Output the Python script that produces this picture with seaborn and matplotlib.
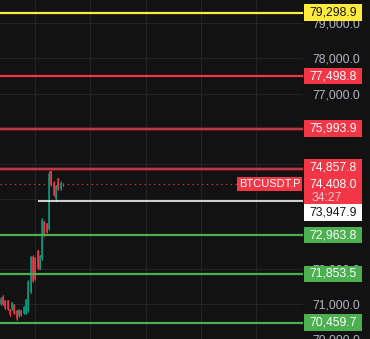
import numpy as np
import pandas as pd
import matplotlib
matplotlib.use("Agg")
import matplotlib.pyplot as plt
from matplotlib.patches import Rectangle
import matplotlib.transforms as mtransforms
import seaborn as sns

# ---------------- data ----------------
opens  = [70990, 71200, 71090, 71080, 70840, 70850, 70980, 70800, 70650, 70810,
          70730, 70750, 70800, 71350, 72350, 72300, 72500, 72000, 72300, 73350,
          73290, 73150, 74800, 74450, 74000, 74550, 74280, 74420]
highs  = [71194, 71250, 71109, 71109, 70855, 71053, 70996, 70827, 70855, 70827,
          70940, 71138, 71674, 72380, 72408, 72324, 72549, 72408, 73453, 73368,
          73312, 74780, 74837, 74498, 74385, 74583, 74498, 74442]
lows   = [70968, 70968, 70855, 70827, 70658, 70827, 70714, 70545, 70629, 70658,
          70714, 70714, 70770, 71307, 71618, 71674, 71985, 71985, 72239, 72945,
          73030, 73114, 74357, 74074, 73933, 74244, 74244, 74357]
closes = [71150, 71000, 70880, 70850, 70700, 71030, 70740, 70580, 70830, 70680,
          70920, 71100, 71620, 72330, 71650, 71700, 72020, 72380, 73400, 72980,
          73050, 74700, 74380, 74100, 74350, 74270, 74460, 74408]

level_values = [79298.9, 77498.8, 75993.9, 74857.8, 72963.8, 71853.5, 70459.7]
level_kinds  = ["yellow", "red", "redglow", "redglow", "green", "green", "green"]
ray_value = 73947.9
ray_start = 16
last_price = 74408.0
countdown = "34:27"
symbol = "BTCUSDT.P"
price_ticks = [70000, 71000, 72000, 73000, 74000, 75000, 76000, 77000, 78000, 79000]
time_grid = [15, 39, 63, 87, 111]

# ---------------- style ----------------
BG = "#121212"
GRID = "#242424"
TXT = "#b2b5be"
UP = "#089981"
DOWN = "#f23645"
RED = "#f23645"
GREEN = "#4caf50"
YELLOW = "#ffeb3b"
PX = 0.72  # points per pixel at dpi 100
FS = 8.7

sns.set_theme(style="dark")
plt.rcParams["font.family"] = ["Liberation Sans", "DejaVu Sans"]

fig = plt.figure(figsize=(3.7, 3.39), dpi=100)
fig.patch.set_facecolor(BG)
ax = fig.add_axes([0, 0, 303 / 370, 1])
ax.set_facecolor(BG)

YMAX, YMIN = 79666, 70093
XMIN, XMAX = -0.3, 131.4
ax.set_xlim(XMIN, XMAX)
ax.set_ylim(YMIN, YMAX)
upp = (YMAX - YMIN) / 339.0  # price units per pixel

# grid
ax.set_yticks(price_ticks)
ax.set_yticklabels([f"{v:,.1f}" for v in price_ticks])
ax.set_xticks(time_grid)
ax.set_xticklabels([])
ax.grid(True, color=GRID, lw=1 * PX)
ax.set_axisbelow(True)
ax.yaxis.tick_right()
ax.tick_params(axis="y", length=0, pad=9.5 * PX, labelsize=FS, labelcolor=TXT)
ax.tick_params(axis="x", length=0)
for s in ax.spines.values():
    s.set_visible(False)

# ---------------- candles via seaborn ----------------
idx = np.arange(len(opens))
direction = ["up" if c >= o else "down" for o, c in zip(opens, closes)]
wick = pd.DataFrame({
    "x": np.repeat(idx, 2),
    "price": np.ravel(np.column_stack([lows, highs])),
    "cid": np.repeat(idx, 2),
    "dir": np.repeat(direction, 2),
})
body = pd.DataFrame({
    "x": np.repeat(idx, 2),
    "price": np.ravel(np.column_stack([opens, closes])),
    "cid": np.repeat(idx, 2),
    "dir": np.repeat(direction, 2),
})
pal = {"up": UP, "down": DOWN}
sns.lineplot(data=wick, x="x", y="price", units="cid", estimator=None, hue="dir",
             palette=pal, lw=1.0 * PX, legend=False, sort=False, ax=ax, zorder=3)
sns.lineplot(data=body, x="x", y="price", units="cid", estimator=None, hue="dir",
             palette=pal, lw=1.6 * PX, legend=False, sort=False, ax=ax, zorder=3)
ax.set_xlabel("")
ax.set_ylabel("")

# ---------------- horizontal levels ----------------
for v, k in zip(level_values, level_kinds):
    if k == "yellow":
        ax.axhline(v, color=YELLOW, lw=2.2 * PX, zorder=4)
    elif k == "red":
        ax.axhline(v, color=RED, lw=2.2 * PX, zorder=4)
    elif k == "redglow":
        ax.axhline(v, color="#5c1a20", lw=3.8 * PX, zorder=4)
        ax.axhline(v, color="#cc4250", lw=1.6 * PX, zorder=4)
    else:
        ax.axhline(v, color=GREEN, lw=2.2 * PX, zorder=4)

ax.hlines(ray_value, ray_start, XMAX, color="white", lw=1.6 * PX, zorder=4)
ax.axhline(last_price, color=RED, lw=1.2 * PX, ls=(0, (1, 3)), zorder=2)

# ---------------- right-hand labels ----------------
btrans = mtransforms.blended_transform_factory(fig.transFigure, ax.transData)
BX0, BX1 = 304 / 370, 362 / 370
BXC = (BX0 + BX1) / 2


def price_box(v, face, tcolor, top_px=8.5, bot_px=8.5, text_dy=0.0):
    r = Rectangle((BX0, v - bot_px * upp), BX1 - BX0, (top_px + bot_px) * upp,
                  transform=btrans, facecolor=face, edgecolor="none",
                  clip_on=False, zorder=10)
    ax.add_patch(r)
    ax.text(BXC, v + text_dy * upp, f"{v:,.1f}", transform=btrans, ha="center",
            va="center", color=tcolor, fontsize=FS, clip_on=False, zorder=11)


for v, k in zip(level_values, level_kinds):
    if k == "yellow":
        price_box(v, YELLOW, "#131313")
    elif k in ("red", "redglow"):
        if v == 74857.8:
            price_box(v, RED, "white", top_px=9.5, bot_px=7.5, text_dy=1.0)
        else:
            price_box(v, RED, "white")
    else:
        price_box(v, GREEN, "white")

# last price box (two lines)
ax.add_patch(Rectangle((BX0, last_price - 20 * upp), BX1 - BX0, 28.5 * upp,
                       transform=btrans, facecolor=RED, edgecolor="none",
                       clip_on=False, zorder=10))
ax.text(BXC, last_price, f"{last_price:,.1f}", transform=btrans, ha="center",
        va="center", color="white", fontsize=FS, clip_on=False, zorder=11)
ax.text(311.5 / 370, last_price - 13.5 * upp, countdown, transform=btrans,
        ha="left", va="center", color="#f9c9ce", fontsize=FS, clip_on=False, zorder=11)

# ray price box (pushed down under the last price box)
ray_c = ray_value - 12 * upp
ax.add_patch(Rectangle((BX0, ray_c - 9 * upp), BX1 - BX0, 18 * upp,
                       transform=btrans, facecolor="white", edgecolor="none",
                       clip_on=False, zorder=10))
ax.text(BXC, ray_c, f"{ray_value:,.1f}", transform=btrans, ha="center",
        va="center", color="#131313", fontsize=FS, clip_on=False, zorder=11)

# symbol label on the price line
ax.add_patch(Rectangle((237 / 370, last_price - 7 * upp), 65 / 370, 14.5 * upp,
                       transform=btrans, facecolor=RED, edgecolor="none",
                       clip_on=False, zorder=10))
ax.text(269.5 / 370, last_price, symbol, transform=btrans, ha="center", va="center",
        color="white", fontsize=8.0, clip_on=False, zorder=11)

fig.savefig("out.png", dpi=100, facecolor=BG)
